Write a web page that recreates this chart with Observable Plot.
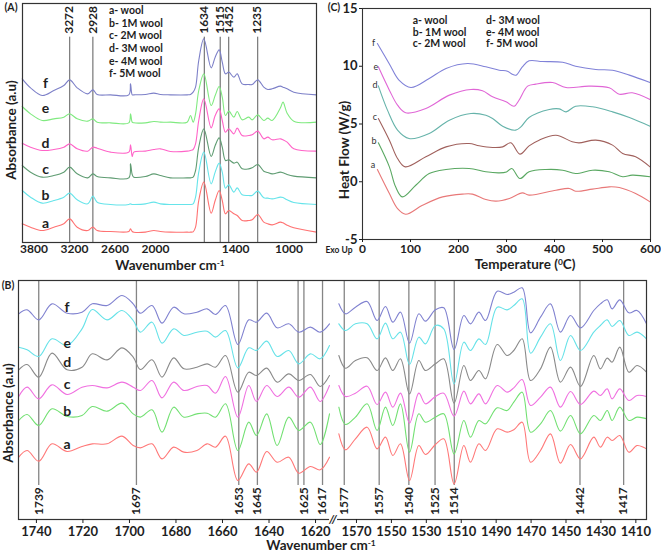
<!DOCTYPE html>
<html><head><meta charset="utf-8">
<script src="https://cdn.jsdelivr.net/npm/d3@7"></script>
<script src="https://cdn.jsdelivr.net/npm/@observablehq/plot@0.6"></script>
<style>
body{margin:0;background:#fff;}
#wrap{position:relative;width:661px;height:553px;overflow:hidden;font-family:Lato,"Open Sans",sans-serif;color:#1e1e1e;}
.abs{position:absolute;white-space:nowrap;line-height:1;}
.abs sup{font-size:0.62em;line-height:0;vertical-align:0.55em;}
.plot{position:absolute;}
</style></head><body><div id="wrap"></div>
<script>
// ---------- shared ----------
const seriesKeys = ["a","b","c","d","e","f"];
const seriesNames = ["a- wool","b- 1M wool","c- 2M wool","d- 3M wool","e- 4M wool","f- 5M wool"];

// ---------- Panel A : FTIR full range ----------
const ftirATicks = [3800, 3200, 2600, 2000, 1400, 1000];
const ftirAPeaks = [3272, 2928, 1634, 1515, 1452, 1235];
const ftirWn = [3974,3851,3678,3506,3358,3272,3160,3003,2928,2864,2666,2395,2370,2345,2321,2150,2025,1963,1888,1763,1738,1718,1700,1676,1638,1583,1553,1523,1500,1476,1451,1413,1388,1351,1301,1276,1234,1189,1159,1126,1064,1045,1014,964,794];
const ftirA_a = [56,46,36,46,56,71,46,36,46,36,33,33,41,33,31,31,36,33,31,31,31,32,46,126,181,88,126,156,126,86,96,86,81,66,66,68,84,61,56,53,61,59,52,44,31];
const ftirA_b = [156,136,118,126,136,148,128,116,139,121,114,114,116,114,114,116,121,116,114,114,114,116,136,211,271,176,211,238,211,163,173,151,164,143,141,141,154,134,133,131,136,135,128,120,114];
const ftirA_c = [231,211,196,201,211,226,206,194,206,198,194,194,236,204,196,198,206,201,194,194,194,196,216,286,341,258,291,314,286,246,248,238,241,221,221,224,234,214,210,206,211,209,204,199,194];
const ftirA_d = [298,286,276,279,286,296,281,274,286,283,271,271,293,258,271,274,279,281,273,274,276,279,296,366,431,344,381,401,366,331,341,326,343,321,321,323,334,311,316,308,311,308,301,281,274];
const ftirA_e = [408,386,366,371,376,386,371,364,371,361,359,359,386,361,359,359,363,361,361,361,381,361,386,456,506,411,441,468,436,381,394,376,393,368,376,368,383,366,373,366,404,421,388,364,361];
const ftirA_f = [491,464,441,456,471,488,464,446,458,444,443,443,476,443,443,444,448,444,443,443,444,451,466,546,611,524,556,578,541,506,511,496,506,476,474,474,488,466,459,461,469,466,461,451,443];
const labelAX = 3629;
const labelAY = [58,141,218,296,403,476];
const colorsA = {a:"#ff7272", b:"#66e4ea", c:"#5f9c72", d:"#ff64c8", e:"#80ea80", f:"#7d80c8"};

// ---------- Panel C : DSC ----------
const dscTicksX = [0,100,200,300,400,500,600];
const dscTicksY = [-5,0,5,10,15];
const dsc_a = [[31,1.06],[56,-1.02],[73,-2.32],[90,-2.81],[125,-2.03],[167,-1.31],[208,-1.07],[229,-1.07],[257,-1.54],[278,-1.68],[306,-1.45],[333,-0.96],[347,-1.16],[403,-0.73],[431,-0.58],[444,-0.82],[479,-0.64],[514,-0.44],[535,-0.5],[569,-1.02],[599,-1.74]];
const dsc_b = [[33,3.37],[56,1.29],[69,-0.44],[83,-1.31],[111,-0.3],[139,0.71],[174,1.06],[222,1.15],[257,0.86],[285,0.77],[300,0.85],[311,1.15],[328,0.28],[347,0.86],[382,1.06],[417,1.0],[444,0.71],[479,1.0],[514,0.86],[542,0.43],[562,0.57],[599,0.43]];
const dsc_c = [[33,5.48],[56,3.6],[73,2.01],[89,1.29],[132,2.16],[174,3.02],[222,3.31],[243,3.11],[271,2.97],[292,3.02],[309,3.37],[328,2.39],[347,3.11],[368,3.6],[403,4.03],[437,3.46],[451,3.37],[486,3.6],[521,3.17],[542,2.45],[569,2.16],[599,1.29]];
const dsc_d = [[33,8.3],[52,6.2],[73,4.47],[97,3.74],[139,4.18],[181,5.33],[226,5.91],[257,5.76],[271,5.48],[292,4.81],[319,4.47],[330,4.75],[347,5.56],[389,6.26],[410,6.31],[424,6.05],[444,6.54],[479,6.49],[521,6.05],[556,5.56],[599,4.81]];
const dsc_e = [[33,9.95],[56,7.93],[73,6.63],[90,5.97],[132,6.34],[181,7.5],[226,7.99],[250,7.87],[271,7.35],[299,6.92],[316,6.54],[326,7.06],[344,8.28],[361,8.45],[396,8.59],[424,8.16],[472,8.28],[514,8.13],[535,7.58],[562,7.7],[599,7.12]];
const dsc_f = [[31,11.97],[56,10.2],[76,8.8],[101,8.16],[139,8.94],[174,9.81],[219,10.24],[257,9.95],[285,9.66],[302,9.57],[312,9.3],[320,9.23],[333,9.95],[347,10.47],[375,10.41],[417,10.35],[444,10.0],[486,9.72],[521,9.66],[556,9.23],[599,8.6]];
const labelCX = [22,24,26,26,28,23];
const labelCY = [1.44,3.54,5.56,8.36,9.95,12.03];
const colorsC = {a:"#e87878", b:"#5aa862", c:"#a0605c", d:"#66b3aa", e:"#e066d6", f:"#8082d8"};

// ---------- Panel B : FTIR zoom with axis break ----------
const ftirBTicks = [1740,1720,1700,1680,1660,1640,1620,1570,1550,1530,1510,1490,1470,1450,1430,1410];
const ftirBPeaks = [1739,1697,1653,1645,1625,1617,1577,1557,1540,1525,1514,1442,1417];
const ftirBExtraLines = [1627.5];
const bLeftWn = [1747.6,1744,1739,1733.3,1726.8,1720.4,1716,1709.6,1703.2,1698.4,1695.3,1690.3,1686,1681,1676.6,1671,1666.6,1663,1658.7,1653.4,1648.7,1645.4,1641,1636.5,1631.5,1627.2,1622.2,1618,1614];
const bLeft_a = [187,207,175,227,204,219,227,227,250,222,215,227,182,217,202,207,227,217,250,117,167,142,204,172,187,139,159,149,187];
const bLeft_b = [297,315,282,332,309,312,339,325,349,317,307,329,262,337,307,317,319,307,347,207,292,252,317,222,307,267,292,225,317];
const bLeft_c = [369,397,362,404,375,397,402,395,412,397,387,417,365,412,387,399,402,379,429,307,402,354,402,369,397,367,397,354,402];
const bLeft_d = [449,465,427,499,449,457,497,479,515,487,450,479,427,485,452,457,467,457,492,382,442,432,454,412,437,417,435,399,432];
const bLeft_e = [517,509,489,542,522,572,630,599,627,597,562,592,529,572,552,562,565,547,567,455,515,507,535,489,507,467,497,482,522];
const bLeft_f = [617,629,599,647,619,622,647,642,672,647,619,642,589,637,617,622,632,615,642,525,599,592,619,575,587,562,577,562,587];
const bRightWn = [1580.1,1576.3,1570.6,1563.9,1558.2,1553.4,1549.2,1544.8,1539.6,1534.3,1530.5,1524.8,1520,1514.1,1508.5,1504.7,1499.9,1496.1,1489.4,1483.7,1479.9,1475.1,1470.3,1464.6,1458.9,1453.2,1447.4,1441.7,1434.1,1430.3,1426.4,1423.6,1419.2,1414,1409.3,1403.9];
const bRight_a = [257,209,242,277,212,247,192,227,117,222,195,225,242,107,222,172,227,207,272,262,269,292,172,207,257,169,225,182,247,217,247,237,252,202,222,212];
const bRight_b = [337,285,307,347,267,337,282,347,202,317,292,307,317,197,297,247,297,287,335,327,352,382,262,287,327,265,312,257,312,297,327,297,337,297,307,302];
const bRight_c = [402,369,379,400,345,382,337,379,289,379,347,369,379,310,385,347,377,347,402,382,395,420,342,367,397,337,384,345,385,372,392,362,392,357,372,369];
const bRight_d = [492,454,477,485,447,485,447,482,377,477,447,467,482,349,462,417,447,422,525,492,507,542,417,452,517,412,457,399,492,452,484,472,517,442,462,442];
const bRight_e = [587,567,587,587,542,589,542,562,465,547,527,582,572,407,532,507,542,525,637,629,642,662,499,547,587,477,552,507,562,582,599,579,597,552,562,542];
const bRight_f = [647,617,637,654,597,639,592,622,529,617,595,629,635,510,612,587,622,597,685,675,682,695,560,607,647,562,612,575,627,647,659,632,659,620,627,587];
const labelBX = 1726.8;
const labelBY = [224,325,405,472,529,637];
const colorsB = {a:"#ff7878", b:"#72e072", c:"#f070e0", d:"#8a8a8a", e:"#66e2e8", f:"#8082d0"};

// ---------- helpers ----------
const wrap = document.getElementById("wrap");
const svgStyle = "font-family: Lato, 'Open Sans', sans-serif; font-size: 12px; font-weight: 700; color: #1e1e1e; background: transparent; overflow: visible;";
function place(el, left, top) { el.classList.add("plot"); el.style.left = left + "px"; el.style.top = top + "px"; wrap.appendChild(el); }
function label(html, x, y, size, opts = {}) {
  const d = document.createElement("div");
  d.className = "abs";
  d.innerHTML = html;
  d.style.left = x + "px"; d.style.top = y + "px";
  d.style.fontSize = size + "px";
  d.style.fontWeight = opts.weight || 700;
  if (opts.bg) d.style.background = opts.bg;
  if (opts.italic) d.style.fontStyle = "italic";
  const tx = opts.align === "left" ? "0" : "-50%";
  d.style.transform = `translate(${tx},-50%)` + (opts.rotate ? " rotate(-90deg)" : "");
  wrap.appendChild(d);
}
const rows = (xs, ys) => xs.map((x, i) => ({x, y: ys[i]}));

// ---------- Panel A plot ----------
const ftirA = {a: ftirA_a, b: ftirA_b, c: ftirA_c, d: ftirA_d, e: ftirA_e, f: ftirA_f};
const plotA = Plot.plot({
  width: 330, height: 270,
  marginLeft: 22, marginRight: 14, marginTop: 3, marginBottom: 28,
  style: svgStyle,
  x: {type: "linear", domain: [3970, 2000, 794], range: [22, 155, 316], label: null},
  y: {domain: [0, 717], axis: null, label: null},
  marks: [
    Plot.ruleX(ftirAPeaks, {x: d => d, y1: 0, y2: 616, stroke: "#808080", strokeWidth: 1.3}),
    ...seriesKeys.map(k => Plot.line(rows(ftirWn, ftirA[k]), {x: "x", y: "y", stroke: colorsA[k], strokeWidth: 1.1, curve: "catmull-rom"})),
    Plot.text(ftirAPeaks, {x: d => d, y: 626, text: d => String(d), rotate: -90, textAnchor: "start", fontSize: 12, fontWeight: "bold", fill: "#1e1e1e"}),
    Plot.text(seriesKeys, {x: () => labelAX, y: (d, i) => labelAY[i], text: d => d, fontSize: 14, fontWeight: "bold", fill: "#1e1e1e"}),
    Plot.frame({stroke: "#333", strokeWidth: 1.2}),
    Plot.axisX(ftirATicks, {tickSize: 0, tickPadding: 2, tickFormat: d => String(d), label: null, fontSize: 12})
  ]
});
place(plotA, 0, 0);

// ---------- Panel C plot ----------
const dsc = {a: dsc_a, b: dsc_b, c: dsc_c, d: dsc_d, e: dsc_e, f: dsc_f};
const plotC = Plot.plot({
  width: 331, height: 270,
  marginLeft: 33, marginRight: 10, marginTop: 8, marginBottom: 31,
  style: svgStyle,
  x: {domain: [0, 600], label: null},
  y: {domain: [-5, 15], label: null},
  marks: [
    ...seriesKeys.map(k => Plot.line(dsc[k], {x: d => d[0], y: d => d[1], stroke: colorsC[k], strokeWidth: 1.1, curve: "catmull-rom"})),
    Plot.text(seriesKeys, {x: (d, i) => labelCX[i], y: (d, i) => labelCY[i], text: d => d, fontSize: 9, fontWeight: "normal", fill: "#333"}),
    Plot.frame({stroke: "#333", strokeWidth: 1.1}),
    Plot.axisX(dscTicksX, {tickSize: 3, tickPadding: 2, tickFormat: d => String(d), label: null, fontSize: 12}),
    Plot.axisY(dscTicksY, {tickSize: 3, tickPadding: 2, tickFormat: d => String(d), label: null, fontSize: 13})
  ]
});
place(plotC, 329, 0);

// ---------- Panel B plot ----------
const bLeft = {a: bLeft_a, b: bLeft_b, c: bLeft_c, d: bLeft_d, e: bLeft_e, f: bLeft_f};
const bRight = {a: bRight_a, b: bRight_b, c: bRight_c, d: bRight_d, e: bRight_e, f: bRight_f};
const plotB = Plot.plot({
  width: 661, height: 283,
  marginLeft: 18, marginRight: 15, marginTop: 10, marginBottom: 34,
  style: svgStyle,
  x: {type: "linear", domain: [1747.7, 1614, 1580.3, 1403.9], range: [18, 329, 338, 646], label: null},
  y: {domain: [0, 717], axis: null, label: null},
  marks: [
    Plot.ruleX(ftirBPeaks.concat(ftirBExtraLines), {x: d => d, y1: 102, y2: 717, stroke: "#858585", strokeWidth: 1.3}),
    ...seriesKeys.map(k => Plot.line(rows(bLeftWn, bLeft[k]), {x: "x", y: "y", stroke: colorsB[k], strokeWidth: 1.1, curve: "catmull-rom"})),
    ...seriesKeys.map(k => Plot.line(rows(bRightWn, bRight[k]), {x: "x", y: "y", stroke: colorsB[k], strokeWidth: 1.1, curve: "catmull-rom"})),
    Plot.text(ftirBPeaks, {x: d => d, y: 97, text: d => String(d), rotate: -90, textAnchor: "end", fontSize: 12, fontWeight: "bold", fill: "#1e1e1e"}),
    Plot.text(seriesKeys, {x: () => labelBX, y: (d, i) => labelBY[i], text: d => d, fontSize: 14, fontWeight: "bold", fill: "#1e1e1e"}),
    Plot.frame({stroke: "#333", strokeWidth: 1.2}),
    Plot.axisX(ftirBTicks, {tickSize: 4, tickPadding: 3, tickFormat: d => String(d), label: null, fontSize: 13})
  ]
});
place(plotB, 0, 270);

// ---------- HTML titles, legends ----------
label("(A)", 11, 7, 10.5);
const legendAY = [10, 22.6, 35.2, 47.8, 60.6, 73];
seriesNames.forEach((n, i) => label(n, 109, legendAY[i], 10.5, {align: "left"}));
label("Wavenumber cm<sup>-1</sup>", 170, 265.5, 13.5);
label("Absorbance (a.u)", 12, 130, 13.5, {rotate: true});

label("(C)", 334, 7, 10.5);
const legendCX = [412.7, 412.7, 412.7, 486, 486, 486];
const legendCY = [20, 31.7, 43.3, 20, 31.7, 43.3];
seriesNames.forEach((n, i) => label(n, legendCX[i], legendCY[i], 10.5, {align: "left"}));
label("Temperature (<sup>0</sup>C)", 525, 265, 13.5);
label("Heat Flow (W/g)", 345, 150, 13.5, {rotate: true});
label("Exo Up", 339, 250, 8.5);

label("(B)", 8, 285, 10.5);
label("Wavenumber cm<sup>-1</sup>", 321, 546, 13.5);
label("Absorbance (a.u)", 9, 413, 13.5, {rotate: true});
label("//", 333, 519, 12, {bg: "#fff", italic: true});
</script></body></html>
